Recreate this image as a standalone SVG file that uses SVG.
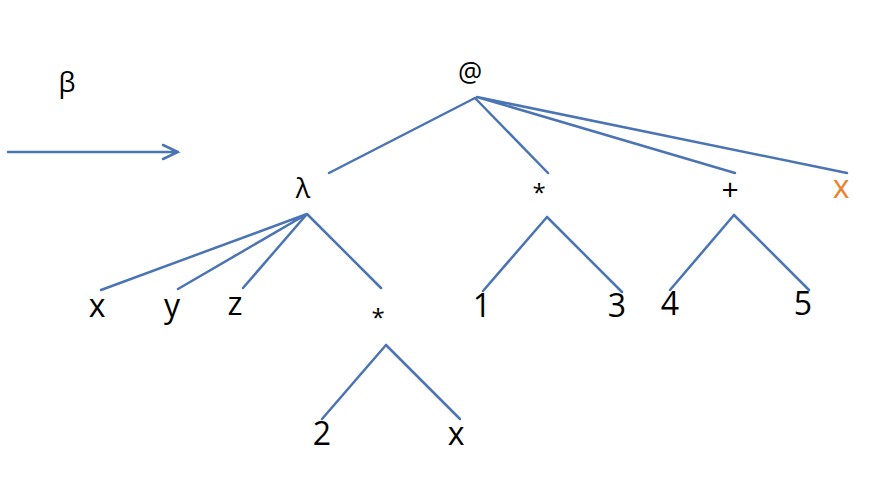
<svg xmlns="http://www.w3.org/2000/svg" width="888" height="477" viewBox="0 0 888 477">
<style>
.e{stroke:#4a74b4;stroke-width:2.5;fill:none;stroke-linecap:round}
text{font-family:"Open Sans","DejaVu Sans",sans-serif;fill:#000;text-anchor:middle}
.big{font-size:32px}
.mid{font-size:27px}
.sm{font-size:24px}
</style>
<rect width="888" height="477" fill="#fff"/>
<g id="connectors">
<path class="e" d="M8 152 H178 M163 145 L178 152 L163 159"/>
<path class="e" d="M475 98 L329 173 M475 98 L548 173 M477 97 L735 173 M477 97 L847 173"/>
<path class="e" d="M307 214 L101 290 M307 214 L178 289 M307 214 L243 288 M307 214 L381 288"/>
<path class="e" d="M547 217 L483 291 M547 217 L622 292"/>
<path class="e" d="M734 215 L670 290 M734 215 L809 290"/>
<path class="e" d="M386 345 L322 419 M386 345 L460 419"/>
</g>
<g id="beta"><text class="mid" x="67" y="92">β</text></g>
<g id="at"><text class="mid" x="470" y="82">@</text></g>
<g id="lambda"><text class="mid" x="303" y="198">λ</text></g>
<g id="mul1"><text class="sm" x="539" y="201">*</text></g>
<g id="plus"><text x="730" y="200" style="font-size:30px">+</text></g>
<g id="xo"><text class="big" x="841" y="198" style="fill:#f07f2e">x</text></g>
<g id="x1"><text class="big" x="97" y="317">x</text></g>
<g id="y1"><text class="big" x="172" y="317">y</text></g>
<g id="z1"><text class="big" x="235" y="315">z</text></g>
<g id="mul2"><text class="sm" x="378" y="326">*</text></g>
<g id="n1"><text class="big" x="482" y="317">1</text></g>
<g id="n3"><text class="big" x="617" y="317">3</text></g>
<g id="n4"><text class="big" x="670" y="315">4</text></g>
<g id="n5"><text class="big" x="803" y="315">5</text></g>
<g id="n2"><text class="big" x="322" y="445">2</text></g>
<g id="x2"><text class="big" x="456" y="445">x</text></g>
</svg>
